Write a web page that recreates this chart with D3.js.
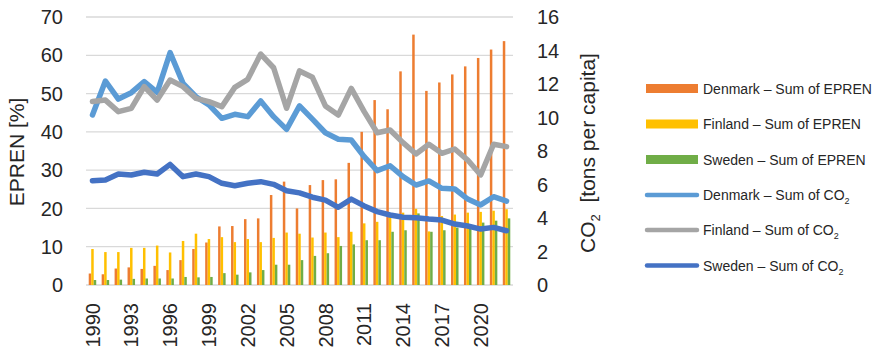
<!DOCTYPE html>
<html>

<head>
    <meta charset="utf-8">
    <style>
        body {
            margin: 0;
            background: #fff;
        }

        svg {
            font-family: 'Liberation Sans', Arial, sans-serif;
        }

        .grid line {
            stroke: #d9d9d9;
            stroke-width: 1.3;
        }

        .tick-label {
            font-size: 20px;
            fill: #262626;
        }

        .axis-title {
            font-size: 21px;
            fill: #262626;
        }

        .legend text {
            font-size: 14px;
            fill: #262626;
        }
    </style>
</head>

<body>
    <svg width="873" height="353"></svg>

    <script src="https://d3js.org/d3.v7.min.js"></script>
    <script>
        let width = 873;
        let height = 353;

        let svg = d3.select("svg");

        // categories
        let years = ["1990", "1991", "1992", "1993", "1994", "1995", "1996", "1997", "1998", "1999",
            "2000", "2001", "2002", "2003", "2004", "2005", "2006", "2007", "2008", "2009",
            "2010", "2011", "2012", "2013", "2014", "2015", "2016", "2017", "2018", "2019",
            "2020", "2021", "2022"];

        // only every third year gets a label
        let yearLabels = ["1990", "1993", "1996", "1999", "2002", "2005", "2008", "2011", "2014", "2017", "2020"];

        // EPREN [%] (bars, left axis)
        let denmarkEpren = [3.0, 2.8, 4.3, 4.6, 4.2, 5.0, 3.9, 6.5, 9.4, 11.1,
            15.3, 15.4, 17.2, 17.4, 23.5, 27.0, 20.0, 26.1, 27.4, 27.6,
            31.9, 40.0, 48.3, 45.9, 55.8, 65.4, 50.7, 52.9, 55.0, 57.1,
            59.3, 61.5, 63.7];
        let finlandEpren = [9.4, 8.6, 8.6, 9.7, 9.7, 10.3, 8.5, 11.5, 13.4, 12.0,
            12.5, 11.2, 12.0, 11.2, 12.3, 13.7, 13.4, 12.4, 13.7, 12.5,
            13.9, 16.1, 16.5, 18.5, 18.9, 19.9, 14.0, 18.0, 18.4, 18.9,
            19.1, 19.4, 19.8];
        let swedenEpren = [1.3, 1.3, 1.4, 1.6, 1.7, 1.7, 1.7, 2.1, 2.0, 2.1,
            3.1, 2.7, 3.3, 3.9, 5.3, 5.3, 6.5, 7.6, 8.3, 10.2,
            10.6, 11.7, 11.7, 13.9, 14.3, 18.7, 13.9, 14.3, 15.0, 15.5,
            16.3, 16.8, 17.4];

        // CO2 tons per capita (lines, right axis)
        let denmarkCo2 = [10.15, 12.18, 11.1, 11.48, 12.14, 11.5, 13.87, 12.04, 11.24, 10.75,
            9.95, 10.19, 10.05, 10.99, 10.05, 9.29, 10.69, 9.9, 9.09, 8.7,
            8.66, 7.66, 6.83, 7.12, 6.47, 5.97, 6.21, 5.77, 5.73, 5.13,
            4.78, 5.27, 5.01];
        let finlandCo2 = [10.95, 11.04, 10.35, 10.55, 11.84, 11.04, 12.24, 11.84, 11.14, 10.95,
            10.65, 11.8, 12.28, 13.79, 12.97, 10.55, 12.78, 12.4, 10.69, 10.15,
            11.74, 10.35, 9.09, 9.25, 8.5, 7.82, 8.4, 7.86, 8.12, 7.46,
            6.57, 8.4, 8.26];
        let swedenCo2 = [6.23, 6.27, 6.63, 6.57, 6.73, 6.63, 7.2, 6.47, 6.63, 6.47,
            6.07, 5.93, 6.07, 6.17, 6.01, 5.63, 5.5, 5.24, 5.07, 4.64,
            5.13, 4.72, 4.38, 4.18, 4.04, 4.02, 3.94, 3.88, 3.64, 3.52,
            3.34, 3.44, 3.24];

        let leftTicks = [0, 10, 20, 30, 40, 50, 60, 70];
        let rightTicks = [0, 2, 4, 6, 8, 10, 12, 14, 16];

        let barSeries = [
            { name: "Denmark \u2013 Sum of EPREN", values: denmarkEpren, color: "#ed7d31" },
            { name: "Finland \u2013 Sum of EPREN", values: finlandEpren, color: "#ffc000" },
            { name: "Sweden \u2013 Sum of EPREN", values: swedenEpren, color: "#70ad47" }
        ];
        let lineSeries = [
            { name: "Denmark \u2013 Sum of CO", values: denmarkCo2, color: "#5b9bd5" },
            { name: "Finland \u2013 Sum of CO", values: finlandCo2, color: "#a5a5a5" },
            { name: "Sweden \u2013 Sum of CO", values: swedenCo2, color: "#4472c4" }
        ];

        let margin = { top: 17, right: 360, bottom: 68, left: 86 };

        let x = d3.scaleBand()
            .domain(years)
            .range([margin.left, width - margin.right]);

        let xInner = d3.scaleBand()
            .domain(barSeries.map(d => d.name))
            .range([x.bandwidth() / 2 - 3.75, x.bandwidth() / 2 + 3.75]);

        let y = d3.scaleLinear()
            .domain([0, 70])
            .range([height - margin.bottom, margin.top]);

        let y2 = d3.scaleLinear()
            .domain([0, 16])
            .range([height - margin.bottom, margin.top]);

        // gridlines
        svg.append("g")
            .attr("class", "grid")
            .selectAll("line")
            .data(leftTicks)
            .join("line")
            .attr("x1", margin.left)
            .attr("x2", width - margin.right)
            .attr("y1", d => y(d))
            .attr("y2", d => y(d));

        // left tick labels
        svg.append("g")
            .selectAll("text")
            .data(leftTicks)
            .join("text")
            .attr("class", "tick-label")
            .attr("x", 63)
            .attr("y", d => y(d))
            .attr("dy", "0.36em")
            .attr("text-anchor", "end")
            .text(d => d);

        // right tick labels
        svg.append("g")
            .selectAll("text")
            .data(rightTicks)
            .join("text")
            .attr("class", "tick-label")
            .attr("x", 537)
            .attr("y", d => y2(d))
            .attr("dy", "0.36em")
            .text(d => d);

        // x labels, rotated
        svg.append("g")
            .selectAll("text")
            .data(yearLabels)
            .join("text")
            .attr("class", "tick-label")
            .attr("transform", d => `translate(${x(d) + x.bandwidth() / 2},303) rotate(-90)`)
            .attr("dy", "0.36em")
            .attr("text-anchor", "end")
            .text(d => d);

        // bars
        svg.append("g")
            .selectAll("g")
            .data(barSeries)
            .join("g")
            .attr("fill", d => d.color)
            .selectAll("rect")
            .data(d => d.values.map((v, i) => ({ key: d.name, year: years[i], value: v })))
            .join("rect")
            .attr("x", d => x(d.year) + xInner(d.key))
            .attr("width", xInner.bandwidth())
            .attr("y", d => y(d.value))
            .attr("height", d => y(0) - y(d.value));

        // lines
        let line = d3.line()
            .x((d, i) => x(years[i]) + x.bandwidth() / 2)
            .y(d => y2(d));

        svg.append("g")
            .selectAll("path")
            .data(lineSeries)
            .join("path")
            .attr("fill", "none")
            .attr("stroke", d => d.color)
            .attr("stroke-width", 5.5)
            .attr("stroke-linejoin", "round")
            .attr("stroke-linecap", "round")
            .attr("d", d => line(d.values));

        // axis titles
        svg.append("text")
            .attr("class", "axis-title")
            .attr("transform", "translate(16,152) rotate(-90)")
            .attr("text-anchor", "middle")
            .attr("dy", "0.36em")
            .text("EPREN [%]");

        let co2Title = svg.append("text")
            .attr("class", "axis-title")
            .attr("font-size", "22px")
            .attr("transform", "translate(587,153) rotate(-90)")
            .attr("text-anchor", "middle")
            .attr("dy", "0.36em");
        co2Title.append("tspan").text("CO");
        co2Title.append("tspan").attr("font-size", "13px").attr("dy", "5").text("2");
        co2Title.append("tspan").attr("dy", "-5").text("\u00a0\u00a0[tons per capita]");

        // legend
        let legendRows = [88.5, 124, 159.5, 195, 230, 265.5];

        let legend = svg.append("g").attr("class", "legend");

        barSeries.forEach(function (s, i) {
            legend.append("rect")
                .attr("x", 646)
                .attr("y", legendRows[i] - 4.5)
                .attr("width", 52)
                .attr("height", 9)
                .attr("fill", s.color);
            legend.append("text")
                .attr("x", 703)
                .attr("y", legendRows[i])
                .attr("dy", "0.36em")
                .text(s.name);
        });

        lineSeries.forEach(function (s, i) {
            let cy = legendRows[i + 3];
            legend.append("line")
                .attr("x1", 647)
                .attr("x2", 697)
                .attr("y1", cy)
                .attr("y2", cy)
                .attr("stroke", s.color)
                .attr("stroke-width", 4.5)
                .attr("stroke-linecap", "round");
            let t = legend.append("text")
                .attr("x", 703)
                .attr("y", cy)
                .attr("dy", "0.36em");
            t.append("tspan").text(s.name);
            t.append("tspan").attr("font-size", "9px").attr("dy", "4").text("2");
        });
    </script>
</body>

</html>
